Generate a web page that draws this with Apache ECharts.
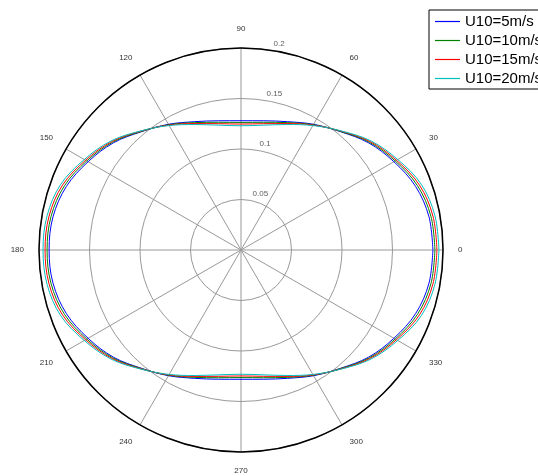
<!DOCTYPE html>
<html><head><meta charset="utf-8">
<script src="https://cdn.jsdelivr.net/npm/echarts@6/dist/echarts.min.js"></script>
<style>html,body{margin:0;padding:0;background:#fff}#c{width:538px;height:476px}</style>
</head><body><div id="c"></div>
<script>
// polar angles (degrees)
const angles = [0,10,20,30,40,50,60,70,80,90,100,110,120,130,140,150,160,170,180,190,200,210,220,230,240,250,260,270,280,290,300,310,320,330,340,350,360];
// radius values
const u5  = [0.190,0.189,0.184,0.1748,0.165,0.153,0.1437,0.1352,0.1299,0.128,0.1299,0.1352,0.1437,0.153,0.165,0.1748,0.184,0.189,0.190,0.189,0.184,0.1748,0.165,0.153,0.1437,0.1352,0.1299,0.128,0.1299,0.1352,0.1437,0.153,0.165,0.1748,0.184,0.189,0.190];
const u10 = [0.192,0.191,0.186,0.1763,0.166,0.1533,0.1432,0.1342,0.1284,0.1263,0.1284,0.1342,0.1432,0.1533,0.166,0.1763,0.186,0.191,0.192,0.191,0.186,0.1763,0.166,0.1533,0.1432,0.1342,0.1284,0.1263,0.1284,0.1342,0.1432,0.1533,0.166,0.1763,0.186,0.191,0.192];
const u15 = [0.194,0.193,0.188,0.1777,0.167,0.1537,0.1428,0.1332,0.127,0.1247,0.127,0.1332,0.1428,0.1537,0.167,0.1777,0.188,0.193,0.194,0.193,0.188,0.1777,0.167,0.1537,0.1428,0.1332,0.127,0.1247,0.127,0.1332,0.1428,0.1537,0.167,0.1777,0.188,0.193,0.194];
const u20 = [0.196,0.195,0.190,0.1792,0.168,0.154,0.1423,0.1322,0.1255,0.123,0.1255,0.1322,0.1423,0.154,0.168,0.1792,0.190,0.195,0.196,0.195,0.190,0.1792,0.168,0.154,0.1423,0.1322,0.1255,0.123,0.1255,0.1322,0.1423,0.154,0.168,0.1792,0.190,0.195,0.196];
const seriesNames = ['U10=5m/s','U10=10m/s','U10=15m/s','U10=20m/s'];
const seriesColors = ['#0000ff','#008000','#ff0000','#00bfbf'];
// tick labels
const radiusTicks = [0.05,0.1,0.15,0.2];
const radiusTickLabels = ['0.05','0.1','0.15','0.2'];
const radiusLabelAngle = 82;

const font = '"Liberation Sans", Arial, Helvetica, sans-serif';
const allValues = [u5,u10,u15,u20];

const chart = echarts.init(document.getElementById('c'));
const lineSeries = allValues.map((vals, k) => ({
  name: seriesNames[k],
  type: 'line',
  coordinateSystem: 'polar',
  symbol: 'none',
  smooth: 0.35,
  silent: true,
  lineStyle: {color: seriesColors[k], width: 1},
  itemStyle: {color: seriesColors[k]},
  data: angles.map((a, i) => [vals[i], a])
}));

chart.setOption({
  animation: false,
  backgroundColor: '#fff',
  legend: {
    data: seriesNames.map(n => ({name: n, icon: 'rect'})),
    orient: 'vertical',
    left: 429, top: 10,
    padding: [4, 30, 3, 6],
    itemWidth: 25, itemHeight: 1.2, itemGap: 4,
    borderColor: '#000', borderWidth: 1,
    selectedMode: false,
    textStyle: {fontFamily: font, fontSize: 15, color: '#000', lineHeight: 15}
  },
  polar: {center: [241, 250], radius: 202},
  angleAxis: {
    type: 'value', min: 0, max: 360, interval: 30,
    startAngle: 0, clockwise: false,
    axisLine: {lineStyle: {color: '#000', width: 1.5}},
    axisTick: {show: false},
    axisLabel: {margin: 15, fontSize: 8, color: '#333', fontFamily: font,
      formatter: v => (v === 360 ? '' : String(v))},
    splitLine: {show: true, lineStyle: {color: '#999', width: 1}}
  },
  radiusAxis: {
    type: 'value', min: 0, max: 0.2, interval: 0.05,
    axisLine: {show: false}, axisTick: {show: false}, axisLabel: {show: false},
    splitLine: {show: true, lineStyle: {color: '#999', width: 1}}
  },
  series: lineSeries.concat([{
    name: 'radius-labels',
    type: 'scatter',
    coordinateSystem: 'polar',
    silent: true,
    clip: false,
    symbolSize: 1,
    itemStyle: {color: 'rgba(255,255,255,0)'},
    label: {
      show: true, position: 'inside', align: 'left', verticalAlign: 'bottom',
      offset: [4.5, -2.5], fontSize: 8, color: '#333', fontFamily: font,
      formatter: p => radiusTickLabels[p.dataIndex]
    },
    data: radiusTicks.map(r => [r, radiusLabelAngle])
  }])
});
</script>
</body></html>
